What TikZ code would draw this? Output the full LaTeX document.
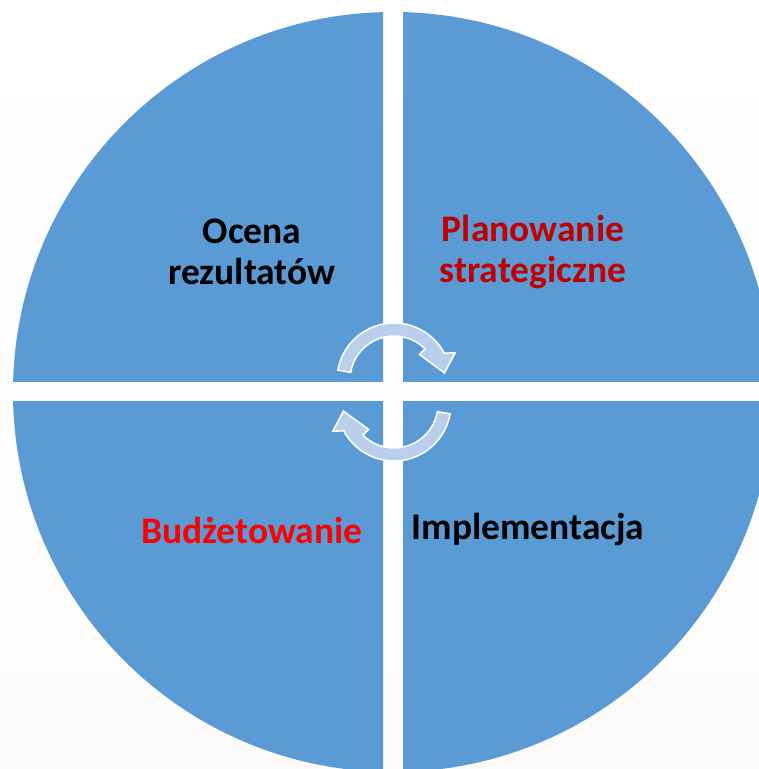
\documentclass[tikz,border=0pt]{standalone}
\usepackage{fontspec}
\setmainfont{Carlito}
\definecolor{quadblue}{HTML}{5B9BD5}
\definecolor{arrowblue}{HTML}{B9CFEB}
\definecolor{darkred}{HTML}{C00000}
\definecolor{brightred}{HTML}{FF0000}
\definecolor{paper}{HTML}{FCFBFA}
\begin{document}
\begin{tikzpicture}[x=1pt, y=1pt,
    label/.style={font=\fontsize{37.5}{41}\selectfont\bfseries, align=center},
    cyclearrow/.style={fill=arrowblue, draw=white, line width=1.5pt, line join=miter}]
    \useasboundingbox (0,0) rectangle (759,769);
    % Background
    \shade[top color=white, bottom color=paper] (0,0) rectangle (759,769);

    % Draw quadrants
    \foreach \xa/\xb/\ya/\yb in {0/383/387/769, 403/759/387/769, 0/383/0/367, 403/759/0/367} {
      \begin{scope}
        \clip (\xa,\ya) rectangle (\xb,\yb);
        \fill[quadblue] (393,377) circle (380);
      \end{scope}
    }

    % Draw cycle arrows
    \begin{scope}[shift={(394,389)}]
      \path[cyclearrow] (170:57) arc[start angle=170, end angle=28, radius=57]
        -- (24:67) -- (8:51) -- (45:36) -- (45:44)
        arc[start angle=45, end angle=170, radius=44] -- cycle;
    \end{scope}
    \begin{scope}[shift={(394,365)}, rotate=180]
      \path[cyclearrow] (170:57) arc[start angle=170, end angle=28, radius=57]
        -- (24:67) -- (8:51) -- (45:36) -- (45:44)
        arc[start angle=45, end angle=170, radius=44] -- cycle;
    \end{scope}

    % Labels
    \node[label] (ocena) at (252,517) {Ocena\\rezultatów};
    \node[label, text=darkred] (plan) at (533,517) {Planowanie\\strategiczne};
    \node[label, text=brightred] (budzet) at (252,239) {Budżetowanie};
    \node[label] (impl) at (528,239) {Implementacja};
\end{tikzpicture}
\end{document}
